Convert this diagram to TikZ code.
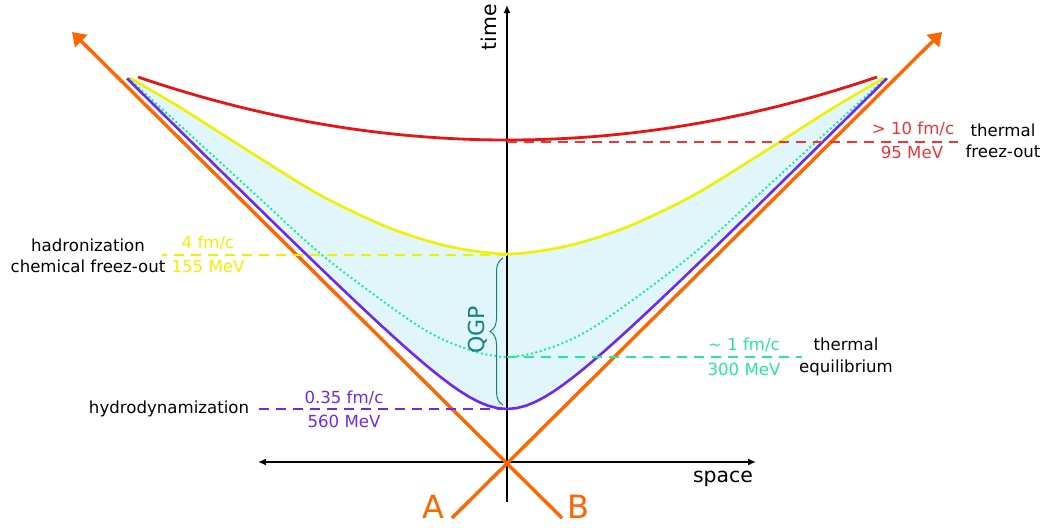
\documentclass[tikz,border=0pt]{standalone}
\usepackage{fontspec}
\setmainfont{DejaVu Sans}
\usepackage{tikz}
\usepackage{xcolor}
\usetikzlibrary{arrows.meta,decorations.pathreplacing}

\definecolor{beamorange}{RGB}{255,102,0}
\definecolor{hydropurple}{RGB}{110,40,240}
\definecolor{equigreen}{RGB}{40,232,150}
\definecolor{hadryellow}{RGB}{240,240,0}
\definecolor{freezered}{RGB}{232,20,20}
\definecolor{dashred}{RGB}{240,52,52}
\definecolor{qgpteal}{RGB}{20,130,130}
\definecolor{qgpfill}{RGB}{224,246,251}

\newcommand{\smalltxt}{\fontsize{8.3}{10.6}\selectfont}
\newcommand{\axistxt}{\fontsize{10.2}{12}\selectfont}

\begin{document}
\begin{tikzpicture}[x=0.5pt,y=-0.5pt,
  beam/.style={line width=1.7pt,beamorange,-{Triangle[length=6.5pt,width=8.5pt]}},
  axis/.style={line width=0.75pt,black},
  marker/.style={dash pattern=on 5pt off 3.5pt,line width=0.85pt},
  curve/.style={line width=1.3pt}]

\useasboundingbox (0,0) rectangle (1056,527);

%------------------------------------------------
% QGP region
%------------------------------------------------

\fill[qgpfill] plot[smooth] coordinates {(130,78) (181,108) (247,150) (320,195)
    (387,227) (447,246) (507,254) (567,246) (627,227) (694,195) (767,150)
    (833,108) (884,78)}
  -- plot[domain=380:-380,samples=81] ({507+\x},{462-100*sqrt(0.2809+(\x/100)^2)})
  -- cycle;

%------------------------------------------------
% Axes
%------------------------------------------------

\coordinate (O) at (507,462);
\coordinate (xl) at (258,462);
\coordinate (xr) at (756,462);
\coordinate (tb) at (507,502);
\coordinate (tt) at (507,5);

\draw[axis,{Latex[length=4pt,width=3.5pt]}-{Latex[length=4pt,width=3.5pt]}] (xl) -- (xr);
\draw[axis,-{Latex[length=4pt,width=3.5pt]}] (tb) -- (tt);

\node[font=\axistxt,rotate=90] (timelbl) at (489,27) {time};
\node[font=\axistxt] (spacelbl) at (723,479) {space};

%------------------------------------------------
% Beams
%------------------------------------------------

\coordinate (Astart) at (452,518);
\coordinate (Aend) at (942,32);
\coordinate (Bstart) at (562,518);
\coordinate (Bend) at (72,32);

\draw[beam] (Astart) -- (Aend);
\draw[beam] (Bstart) -- (Bend);

\node[font=\fontsize{16}{18}\selectfont,text=beamorange] (labA) at (433,507) {A};
\node[font=\fontsize{16}{18}\selectfont,text=beamorange] (labB) at (578,507) {B};

%------------------------------------------------
% Stages
%------------------------------------------------

\coordinate (fo-l) at (138,77);
\coordinate (fo-r) at (877,77);
\draw[curve,freezered,line width=1.4pt] (fo-l) .. controls (384,161) and (631,161) .. (fo-r);

\draw[curve,hadryellow] plot[smooth] coordinates {(130,78) (181,108) (247,150)
    (320,195) (387,227) (447,246) (507,254) (567,246) (627,227) (694,195)
    (767,150) (833,108) (884,78)};

\draw[equigreen,line width=1pt,dash pattern=on 1pt off 1.3pt] plot[smooth]
  coordinates {(128,78) (196,140) (257,196) (327,259) (420,327) (470,350)
    (507,357) (544,350) (594,327) (687,259) (757,196) (818,140) (886,78)};

\draw[curve,hydropurple] plot[domain=-380:380,samples=81]
  ({507+\x},{462-100*sqrt(0.2809+(\x/100)^2)});

%------------------------------------------------
% Markers
%------------------------------------------------

\coordinate (fo) at (507,142);
\coordinate (fo-end) at (958,142);
\coordinate (hd) at (507,255);
\coordinate (hd-end) at (162,255);
\coordinate (eq) at (507,357);
\coordinate (eq-end) at (802,357);
\coordinate (hy) at (507,409);
\coordinate (hy-end) at (255,409);

\draw[marker,dashred] (fo) -- (fo-end);
\draw[marker,hadryellow] (hd) -- (hd-end);
\draw[marker,equigreen] (eq) -- (eq-end);
\draw[marker,hydropurple] (hy) -- (hy-end);

%------------------------------------------------
% Labels
%------------------------------------------------

\node[font=\smalltxt,text=dashred] (fo-time) at (913,129) {> 10 fm/c};
\node[font=\smalltxt,text=dashred] (fo-temp) at (912,152) {95 MeV};
\node[font=\smalltxt,align=center] (fo-name) at (1003,141) {thermal\\freez-out};

\node[font=\smalltxt,text=hadryellow] (hd-time) at (208,243) {4 fm/c};
\node[font=\smalltxt,text=hadryellow] (hd-temp) at (208,267) {155 MeV};
\node[font=\smalltxt,align=center] (hd-name) at (88,256) {hadronization\\chemical freez-out};

\node[font=\smalltxt,text=equigreen] (eq-time) at (744,345) {\textasciitilde{} 1 fm/c};
\node[font=\smalltxt,text=equigreen] (eq-temp) at (744,369) {300 MeV};
\node[font=\smalltxt,align=center] (eq-name) at (846,357) {thermal\\equilibrium};

\node[font=\smalltxt,text=hydropurple] (hy-time) at (344,398) {0.35 fm/c};
\node[font=\smalltxt,text=hydropurple] (hy-temp) at (344,421) {560 MeV};
\node[font=\smalltxt] (hy-name) at (169,409) {hydrodynamization};

%------------------------------------------------
% QGP brace
%------------------------------------------------

\coordinate (qgp-bot) at (503,405);
\coordinate (qgp-top) at (503,258);
\draw[qgpteal,line width=0.5pt,decorate,decoration={brace,amplitude=6.5pt}]
  (qgp-bot) -- (qgp-top);
\node[font=\fontsize{11}{13}\selectfont,text=qgpteal,rotate=90] (qgp) at (478,330) {QGP};

\end{tikzpicture}
\end{document}
